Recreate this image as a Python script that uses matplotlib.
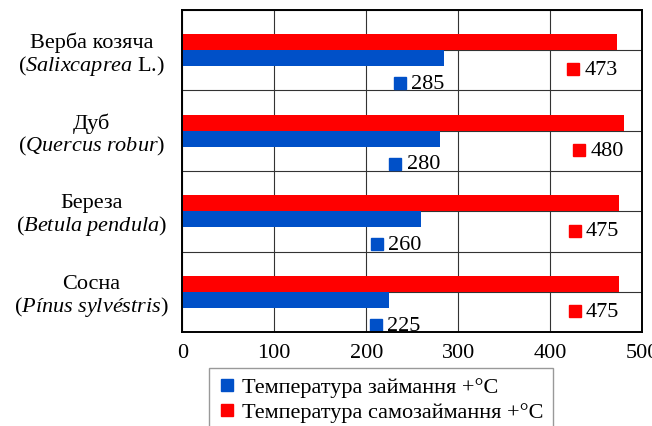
import matplotlib
matplotlib.use("Agg")
import matplotlib.pyplot as plt
from matplotlib.lines import Line2D
from matplotlib.transforms import offset_copy

# data
species = ["Верба козяча", "Дуб", "Береза", "Сосна"]
latin = [
    r"($\mathit{Salixcaprea}$ L.)",
    r"($\mathit{Quercus\ robur}$)",
    r"($\mathit{Betula\ pendula}$)",
    r"($\mathit{Pínus\ sylvéstris}$)",
]
ignition = [285, 280, 260, 225]
self_ignition = [473, 480, 475, 475]
series_names = ["Температура займання +°C", "Температура самозаймання +°C"]
x_ticks = [0, 100, 200, 300, 400, 500]

BLUE = "#0050c8"
RED = "#ff0000"
FS = 16

plt.rcParams["font.family"] = ["Liberation Serif", "DejaVu Serif"]
plt.rcParams["mathtext.fontset"] = "custom"
plt.rcParams["mathtext.rm"] = "Liberation Serif"
plt.rcParams["mathtext.it"] = "Liberation Serif:italic"

fig = plt.figure(figsize=(6.52, 4.27), dpi=100)
ax = fig.add_axes([0.2796, 0.2194, 0.7055, 0.7556])

ys = list(range(len(species)))
bh = 0.2
ax.barh([y - bh / 2 for y in ys], self_ignition, height=bh, color=RED, zorder=2)
ax.barh([y + bh / 2 for y in ys], ignition, height=bh, color=BLUE, zorder=2)

ax.set_xlim(0, 500)
ax.set_ylim(len(species) - 0.5, -0.5)
ax.set_xticks(x_ticks)
ax.set_yticks(ys)
ax.set_yticklabels([f"{s}\n{l}" for s, l in zip(species, latin)], ha="center",
                   multialignment="center", linespacing=1.05)
ax.tick_params(axis="both", which="both", length=0, labelsize=FS)
ax.tick_params(axis="y", pad=65.5)
ax.tick_params(axis="x", pad=8)
ax.grid(True, axis="x", color="#333333", linewidth=0.8, zorder=1)
# horizontal rules at category centres and between categories
for y in ys:
    for h in (y - 0.5, y):
        ax.axhline(h, color="#333333", linewidth=0.8, zorder=1)
for sp in ax.spines.values():
    sp.set_linewidth(1.4)
    sp.set_color("black")
    sp.set_zorder(4)

# value labels with a small colour key in front of the number
sq_tr = offset_copy(ax.transData, fig=fig, x=-0.445, y=0, units="inches")
for y, v in zip(ys, ignition):
    lx = max(v, 259)
    ax.text(lx, y + 0.41, str(v), ha="right", va="center", fontsize=FS, zorder=3)
    ax.plot([lx], [y + 0.41], marker="s", markersize=9.2, color=BLUE,
            transform=sq_tr, clip_on=False, zorder=3)
for y, v in zip(ys, self_ignition):
    ax.text(v, y + 0.24, str(v), ha="right", va="center", fontsize=FS, zorder=3)
    ax.plot([v], [y + 0.24], marker="s", markersize=9.2, color=RED,
            transform=sq_tr, clip_on=False, zorder=3)

handles = [
    Line2D([], [], linestyle="none", marker="s", markersize=8.5, color=BLUE),
    Line2D([], [], linestyle="none", marker="s", markersize=8.5, color=RED),
]
leg = fig.legend(handles, series_names, loc="upper left", bbox_to_anchor=(0.3206, 0.1358),
                 fontsize=FS, frameon=True, fancybox=False, edgecolor="#808080",
                 handlelength=0.8, handletextpad=0.3, borderpad=0.4, labelspacing=0.2,
                 borderaxespad=0)
leg.get_frame().set_linewidth(1.0)

fig.savefig("out.png", dpi=100)
